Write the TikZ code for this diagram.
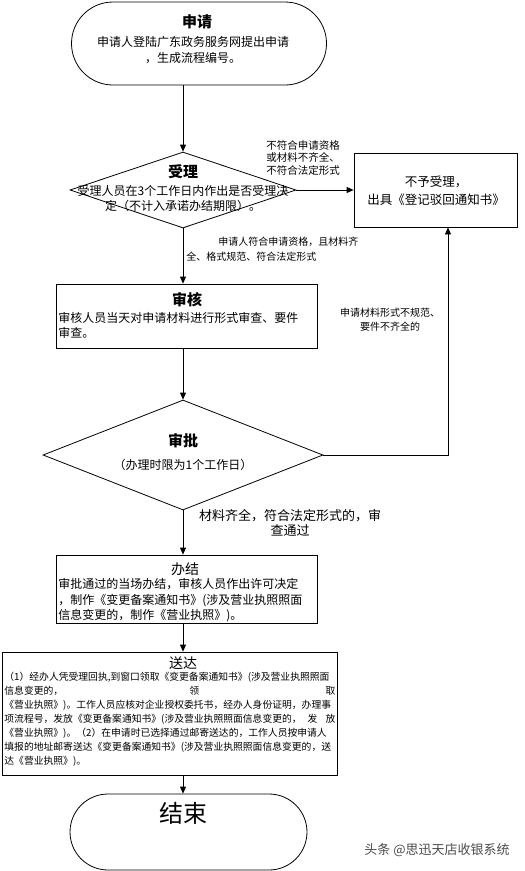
\documentclass[tikz,border=0pt]{standalone}
\usepackage{fontspec}
\setmainfont{Noto Sans CJK SC}
\usetikzlibrary{shapes.geometric,shapes.misc,arrows.meta}
\begin{document}
\begin{tikzpicture}[x=1pt,y=-1pt,
  line width=0.8pt,
  arr/.style={-{Triangle[length=7pt,width=6pt]}},
  boxnode/.style={draw,rectangle,inner sep=0pt},
  term/.style={draw,rounded rectangle,inner sep=0pt},
  dia/.style={draw,diamond,inner sep=0pt},
  title/.style={font=\fontsize{15}{15}\selectfont\bfseries,inner sep=0pt},
  plaintitle/.style={font=\fontsize{14}{14}\selectfont,inner sep=0pt},
  body/.style={font=\fontsize{12}{15}\selectfont,inner sep=0pt},
  note/.style={font=\fontsize{10}{14}\selectfont,inner sep=0pt},
]
\useasboundingbox[fill=white] (0,0) rectangle (525,871);
\coordinate (axis) at (183,0);

% start
\node[term,minimum width=255pt,minimum height=83pt] (start) at (199,43.5) {};
\node[title] (startT) at (197,22) {申请};
\node[body,align=center,font=\fontsize{12}{16}\selectfont] (startB) at (193,50) {申请人登陆广东政务服务网提出申请\\，生成流程编号。};

% accept
\node[dia,minimum width=226pt,minimum height=76pt] (accept) at (183,190) {};
\node[title] (acceptT) at (183,172) {受理};
\node[body,align=center] (acceptB) at (183,198.5) {受理人员在3个工作日内作出是否受理决\\定（不计入承诺办结期限）。};

% reject
\node[boxnode,minimum width=163pt,minimum height=74pt] (reject) at (435.5,190) {};
\node[inner sep=0pt,font=\fontsize{12.5}{18}\selectfont,align=center] (rejectB) at (436,191) {不予受理，\\出具《登记驳回通知书》};

\draw[arr] (start.south -| axis) -- (accept.north);
\draw[arr] (accept.east) -- (reject.west);
\node[note,font=\fontsize{10.5}{12.5}\selectfont,align=left,anchor=west] (lab1) at (266,158) {不符合申请资格\\或材料不齐全、\\不符合法定形式};

% review
\node[boxnode,minimum width=261pt,minimum height=64pt] (review) at (186.5,316) {};
\node[title] (reviewT) at (187,300) {审核};
\node[body,align=left,anchor=west,text width=255pt] (reviewB) at (58,325.5) {审核人员当天对申请材料进行形式审查、要件\\审查。};
\draw[arr] (accept.south) -- (review.north -| axis);
\node[note,font=\fontsize{10}{15}\selectfont,align=left,anchor=north west] (lab2) at (186,237) {\hspace*{32pt}申请人符合申请资格，且材料齐\\全、格式规范、符合法定形式};

% approve
\node[dia,minimum width=280pt,minimum height=110pt] (approve) at (183,455) {};
\node[title] (approveT) at (183,441) {审批};
\node[body] (approveB) at (183,465) {（办理时限为1个工作日）};
\draw[arr] (review.south -| axis) -- (approve.north);
\draw[arr] (approve.east) -| ([xshift=12.5pt]reject.south);
\node[note,align=center] (lab3) at (390,320) {申请材料形式不规范、\\要件不齐全的};

% finish
\node[boxnode,minimum width=261pt,minimum height=68pt] (finish) at (186.5,589) {};
\draw[arr] (approve.south) -- (finish.north -| axis);
\node[inner sep=0pt,font=\fontsize{13}{15}\selectfont,align=center] (lab4) at (290,522.5) {材料齐全，符合法定形式的，审\\查通过};
\node[plaintitle] (finishT) at (185,569) {办结};
\node[body,font=\fontsize{12}{15.5}\selectfont,align=left,anchor=north west,text width=258pt] (finishB) at (58,578) {审批通过的当场办结，审核人员作出许可决定\\，制作《变更备案通知书》(涉及营业执照照面\\信息变更的，制作《营业执照》)。};

% deliver
\node[boxnode,minimum width=335pt,minimum height=123pt] (deliver) at (169.5,713.5) {};
\draw[arr] (finish.south -| axis) -- (deliver.north -| axis);
\node[plaintitle] (deliverT) at (183,663) {送达};
\node[inner sep=0pt,font=\fontsize{9.8}{14}\selectfont,align=left,anchor=north west,text width=331pt] (deliverB) at (4,672) {（1）经办人凭受理回执,到窗口领取《变更备案通知书》(涉及营业执照照面\\
信息变更的，\hfill 领\hfill 取\\
《营业执照》)。工作人员应核对企业授权委托书，经办人身份证明，办理事\\
项流程号，发放《变更备案通知书》(涉及营业执照照面信息变更的，\hspace{6pt}发\hspace{8pt}放\\
《营业执照》)。（2）在申请时已选择通过邮寄送达的，工作人员按申请人\\
填报的地址邮寄送达《变更备案通知书》(涉及营业执照照面信息变更的，送\\
达《营业执照》)。};

% end
\node[term,minimum width=237pt,minimum height=76pt] (endn) at (188.5,832) {};
\node[inner sep=0pt,font=\fontsize{24}{24}\selectfont] (endT) at (183,813) {结束};
\draw[arr] (deliver.south -| axis) -- (endn.north -| axis);

\node[inner sep=0pt,font=\fontsize{13}{13}\selectfont,text=black!70] (wm) at (437,850) {头条 @思迅天店收银系统};
\end{tikzpicture}
\end{document}
